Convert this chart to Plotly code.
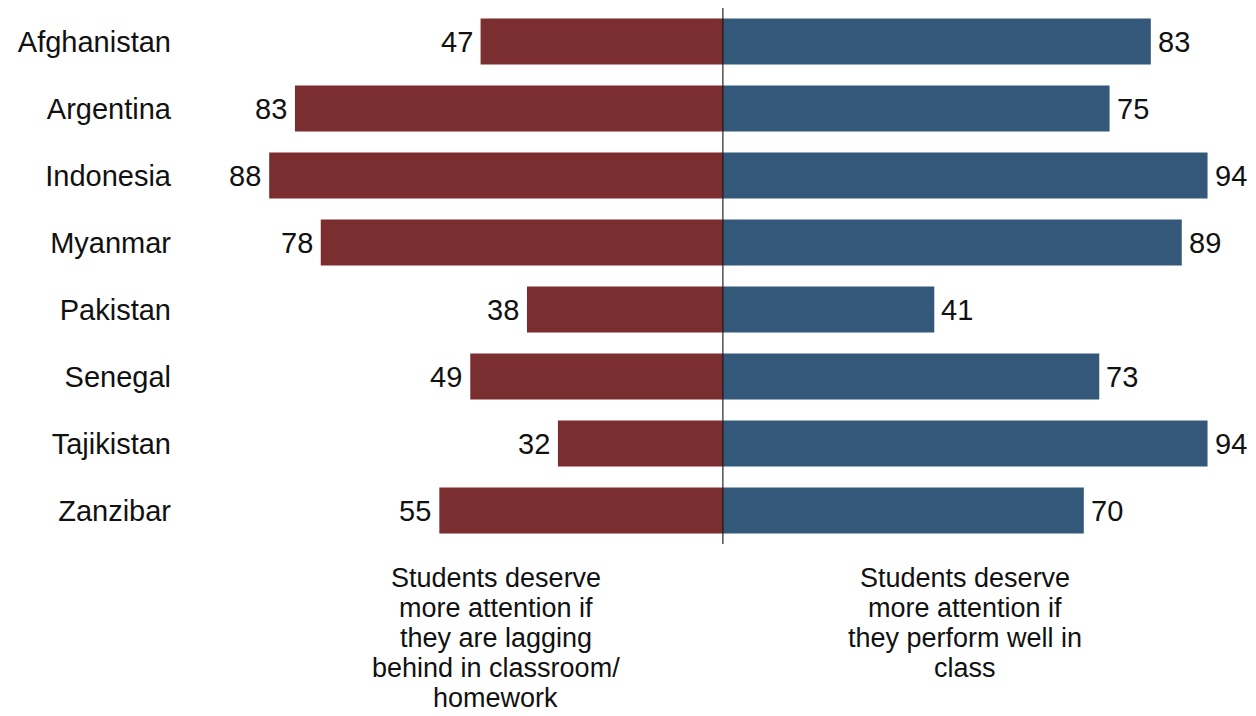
import plotly.graph_objects as go

countries = ["Afghanistan", "Argentina", "Indonesia", "Myanmar",
             "Pakistan", "Senegal", "Tajikistan", "Zanzibar"]
lagging = [47, 83, 88, 78, 38, 49, 32, 55]
perform = [83, 75, 94, 89, 41, 73, 94, 70]

left_label = ["Students deserve", "more attention if", "they are lagging",
              "behind in classroom/", "homework"]
right_label = ["Students deserve", "more attention if", "they perform well in",
               "class"]

RED = "#7B2E2F"
BLUE = "#335879"
FONT = "Arial, Liberation Sans, sans-serif"

fig = go.Figure()
fig.add_trace(go.Bar(y=countries, x=[-v for v in lagging], orientation="h",
                     marker=dict(color=RED, line=dict(width=0)),
                     hoverinfo="skip", showlegend=False))
fig.add_trace(go.Bar(y=countries, x=perform, orientation="h",
                     marker=dict(color=BLUE, line=dict(width=0)),
                     hoverinfo="skip", showlegend=False))

annotations = []
for c, v in zip(countries, lagging):
    annotations.append(dict(x=-v, y=c, xref="x", yref="y", text=str(v),
                            showarrow=False, xanchor="right", yanchor="middle",
                            xshift=-6, font=dict(size=29, color="#111", family=FONT)))
for c, v in zip(countries, perform):
    annotations.append(dict(x=v, y=c, xref="x", yref="y", text=str(v),
                            showarrow=False, xanchor="left", yanchor="middle",
                            xshift=5, font=dict(size=29, color="#111", family=FONT)))

PLOT_BOTTOM = 544
for i, line in enumerate(left_label):
    ypx = 578 + 30 * i
    annotations.append(dict(x=-44.1, y=0, xref="x", yref="paper", text=line,
                            showarrow=False, xanchor="center", yanchor="middle",
                            yshift=-(ypx - PLOT_BOTTOM),
                            font=dict(size=27, color="#111", family=FONT)))
for i, line in enumerate(right_label):
    ypx = 578 + 30 * i
    annotations.append(dict(x=47.0, y=0, xref="x", yref="paper", text=line,
                            showarrow=False, xanchor="center", yanchor="middle",
                            yshift=-(ypx - PLOT_BOTTOM),
                            font=dict(size=27, color="#111", family=FONT)))

fig.update_layout(
    width=1256, height=716,
    margin=dict(l=180, r=0, t=8, b=172, autoexpand=False),
    plot_bgcolor="white", paper_bgcolor="white",
    barmode="relative", bargap=0.31,
    annotations=annotations,
    shapes=[dict(type="line", xref="x", yref="paper", x0=0, x1=0, y0=0, y1=1,
                 line=dict(color="#111", width=1.1), layer="above")],
    xaxis=dict(range=[-105.3, 103.4], visible=False, fixedrange=True),
    yaxis=dict(autorange="reversed", showgrid=False, zeroline=False,
               showline=False, ticks="", ticklabelstandoff=8,
               tickfont=dict(size=29, color="#111", family=FONT),
               automargin=False, fixedrange=True),
    font=dict(family=FONT),
)

fig.write_html("out.html", config={"displayModeBar": False})
